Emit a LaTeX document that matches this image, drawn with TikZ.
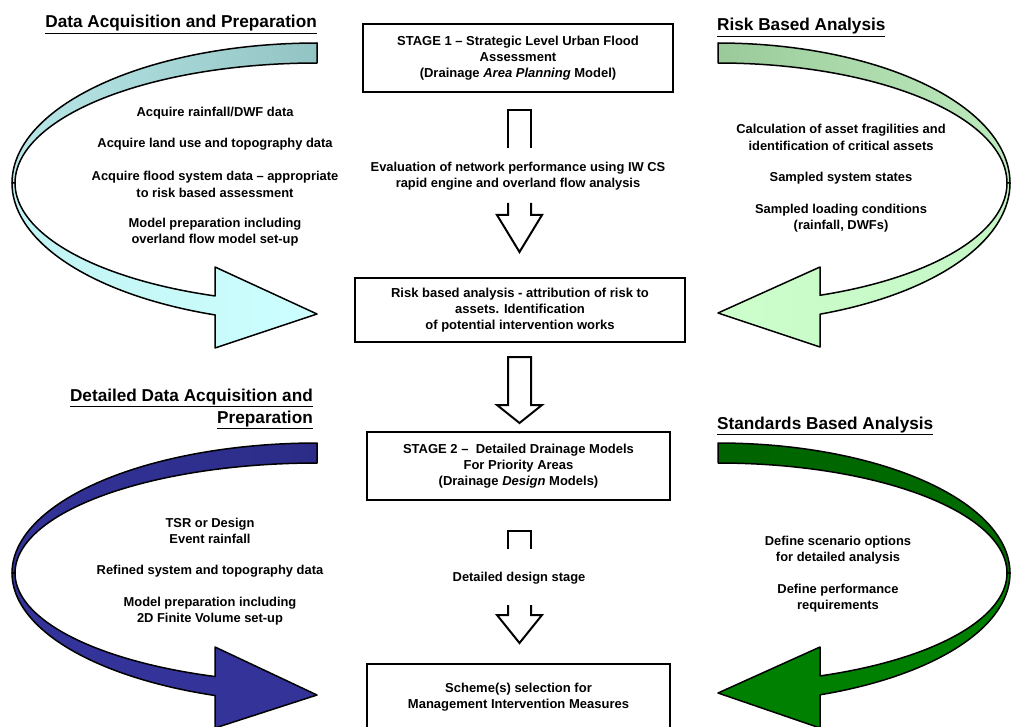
\documentclass[tikz,border=0pt]{standalone}
\usepackage{fontspec}
\setmainfont{Liberation Sans}
\newcommand{\hul}[1]{\underline{#1\vphantom{p}}}
\definecolor{tealback}{HTML}{93C4C4}
\definecolor{tealmid}{HTML}{B9E7E7}
\definecolor{cyanfront}{HTML}{CCFFFF}
\definecolor{sageback}{HTML}{9ACA9A}
\definecolor{sagemid}{HTML}{BEEBBE}
\definecolor{mintfront}{HTML}{CCFFCC}
\definecolor{navyfront}{HTML}{333399}
\definecolor{navyback}{HTML}{2C2C88}
\definecolor{greenback}{HTML}{006400}
\definecolor{greenfront}{HTML}{008000}
\begin{document}
\begin{tikzpicture}[x=1pt,y=-1pt,
  body/.style={font=\fontsize{12.9}{16.3}\selectfont\bfseries, align=center, inner sep=0pt},
  heading/.style={font=\fontsize{17.2}{22}\selectfont\bfseries, inner sep=0pt},
  stagebox/.style={draw, line width=2.6pt, inner sep=0pt, align=center,
    font=\fontsize{13}{16.3}\selectfont\bfseries},
  hollow/.style={draw, line width=2pt, fill=white, line join=miter},
  curve/.style={draw, line width=1.5pt, line join=round}
]
\useasboundingbox (0,0) rectangle (1011,727);
\fill[white] (0,0) rectangle (1011,727);
\clip (0,0) rectangle (1011,727);

% ---------- curved arrows ----------
% top left
\path[curve, left color=tealmid, right color=tealback]
  plot[domain=270:180, samples=50, variable=\t] ({317+305*cos(\t)},{183+140*sin(\t)})
  -- plot[domain=180:270, samples=50, variable=\t] ({317+302*cos(\t)},{183+120*sin(\t)})
  -- cycle;
\path[curve, left color=tealmid!50!cyanfront, right color=cyanfront]
  plot[domain=180:109.5, samples=50, variable=\t] ({317+305*cos(\t)},{183+140*sin(\t)})
  -- (215,348) -- (317,314) -- (215,267)
  -- plot[domain=109.74:180, samples=50, variable=\t] ({317+302*cos(\t)},{183+120*sin(\t)})
  -- cycle;
% top right
\path[curve, left color=sageback, right color=sagemid]
  plot[domain=270:360, samples=50, variable=\t] ({718+292*cos(\t)},{183+140*sin(\t)})
  -- plot[domain=360:270, samples=50, variable=\t] ({718+289*cos(\t)},{183+120*sin(\t)})
  -- cycle;
\path[curve, left color=mintfront, right color=sagemid!50!mintfront]
  plot[domain=0:69.55, samples=50, variable=\t] ({718+292*cos(\t)},{183+140*sin(\t)})
  -- (820,347) -- (718,313) -- (820,267)
  -- plot[domain=69.33:0, samples=50, variable=\t] ({718+289*cos(\t)},{183+120*sin(\t)})
  -- cycle;
% bottom left
\path[curve, left color=navyfront, right color=navyback]
  plot[domain=270:180, samples=50, variable=\t] ({317+305*cos(\t)},{573+130*sin(\t)})
  -- plot[domain=180:270, samples=50, variable=\t] ({317+302*cos(\t)},{573+110*sin(\t)})
  -- cycle;
\path[curve, fill=navyfront]
  plot[domain=180:109.5, samples=50, variable=\t] ({317+305*cos(\t)},{573+130*sin(\t)})
  -- (215,728) -- (317,695) -- (215,647)
  -- plot[domain=109.74:180, samples=50, variable=\t] ({317+302*cos(\t)},{573+110*sin(\t)})
  -- cycle;
% bottom right
\path[curve, left color=greenback, right color=greenback!70!greenfront]
  plot[domain=270:360, samples=50, variable=\t] ({718+292*cos(\t)},{573+130*sin(\t)})
  -- plot[domain=360:270, samples=50, variable=\t] ({718+289*cos(\t)},{573+110*sin(\t)})
  -- cycle;
\path[curve, fill=greenfront]
  plot[domain=0:69.55, samples=50, variable=\t] ({718+292*cos(\t)},{573+130*sin(\t)})
  -- (820,728) -- (718,693) -- (820,647)
  -- plot[domain=69.33:0, samples=50, variable=\t] ({718+289*cos(\t)},{573+110*sin(\t)})
  -- cycle;

% ---------- headings ----------
\node[heading, anchor=base east] (h1) at (317,28) {\hul{Data Acquisition and Preparation}};
\node[heading, anchor=base west] (h2) at (717,31) {\hul{Risk Based Analysis}};
\node[heading, anchor=east, align=right] (h3) at (313,409) {\hul{Detailed Data Acquisition and}\\\hul{Preparation}};
\node[heading, anchor=base west] (h4) at (717,429) {\hul{Standards Based Analysis}};

% ---------- stage boxes ----------
\node[stagebox, minimum width=310pt, minimum height=68pt] (box1) at (518,58)
  {STAGE 1 -- Strategic Level Urban Flood\\Assessment\\(Drainage \textit{Area Planning} Model)};
\node[stagebox, minimum width=330pt, minimum height=64pt] (box2) at (520,310)
  {Risk based analysis - attribution of risk to\\assets. Identification\\of potential intervention works};
\node[stagebox, minimum width=303pt, minimum height=68pt] (box3) at (518.5,466)
  {STAGE 2 --\ \ Detailed Drainage Models\\For Priority Areas\\(Drainage \textit{Design} Models)};
\node[stagebox, minimum width=303pt, minimum height=66pt] (box4) at (518.5,697)
  {Scheme(s) selection for\\Management Intervention Measures};

% ---------- hollow block arrows ----------
\draw[hollow] (508,148) -- (508,110) -- (531,110) -- (531,148);
\draw[hollow] (508,203) -- (508,215) -- (497,215) -- (519.5,252) -- (542,215) -- (531,215) -- (531,203);
\draw[hollow] (508,357) -- (531,357) -- (531,405) -- (542,405) -- (519.5,423) -- (497,405) -- (508,405) -- cycle;
\draw[hollow] (508,549) -- (508,531) -- (531,531) -- (531,549);
\draw[hollow] (508,605) -- (508,615) -- (497,615) -- (519.5,643) -- (542,615) -- (531,615) -- (531,605);

% ---------- texts ----------
\node[body] (eval) at (518,176) {Evaluation of network performance using IW CS\\rapid engine and overland flow analysis};
\node[body] (dds) at (519,578) {Detailed design stage};

\node[body] (tl1) at (215,113) {Acquire rainfall/DWF data};
\node[body] (tl2) at (215,144) {Acquire land use and topography data};
\node[body] (tl3) at (215,184.5) {Acquire flood system data -- appropriate\\to risk based assessment};
\node[body] (tl4) at (215,232.5) {Model preparation including\\overland flow model set-up};

\node[body] (tr1) at (841,137.5) {Calculation of asset fragilities and\\identification of critical assets};
\node[body] (tr2) at (841,178) {Sampled system states};
\node[body] (tr3) at (841,218) {Sampled loading conditions\\(rainfall, DWFs)};

\node[body] (bl1) at (210,531) {TSR or Design\\Event rainfall};
\node[body] (bl2) at (210,571) {Refined system and topography data};
\node[body] (bl3) at (210,611) {Model preparation including\\2D Finite Volume set-up};

\node[body] (br1) at (838,550) {Define scenario options\\for detailed analysis};
\node[body] (br2) at (838,598) {Define performance\\requirements};
\end{tikzpicture}
\end{document}
